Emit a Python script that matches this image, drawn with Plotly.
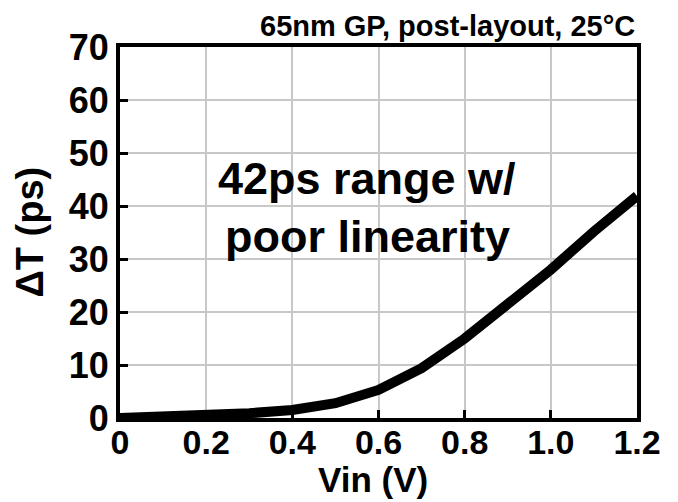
import plotly.graph_objects as go

vin = [0.0, 0.1, 0.2, 0.3, 0.4, 0.5, 0.6, 0.7, 0.8, 0.9, 1.0, 1.1, 1.2]
delta_t = [0.0, 0.2, 0.5, 0.9, 1.5, 2.8, 5.3, 9.4, 15.0, 21.5, 28.0, 35.2, 41.9]

x_ticks = [0, 0.2, 0.4, 0.6, 0.8, 1.0, 1.2]
x_tick_labels = ["0", "0.2", "0.4", "0.6", "0.8", "1.0", "1.2"]
y_ticks = [0, 10, 20, 30, 40, 50, 60, 70]

title_text = "65nm GP, post-layout, 25°C"
x_title = "Vin (V)"
y_title = "ΔT (ps)"
note_lines = ["42ps range w/", "poor linearity"]

FONT = "Liberation Sans, Arial, sans-serif"

fig = go.Figure()
fig.add_trace(go.Scatter(
    x=vin, y=delta_t, mode="lines",
    line=dict(color="black", width=10),
    cliponaxis=False, showlegend=False,
))

fig.update_layout(
    width=678, height=502,
    margin=dict(l=120, r=41, t=47, b=84),
    paper_bgcolor="white", plot_bgcolor="white",
    font=dict(family=FONT, color="black"),
    showlegend=False,
)

fig.update_xaxes(
    range=[0, 1.2], tickvals=x_ticks, ticktext=x_tick_labels,
    showgrid=True, gridcolor="#c8c8c8", gridwidth=1.5,
    showline=True, linecolor="black", linewidth=4, mirror=True,
    ticks="inside", ticklen=8, tickwidth=3, tickcolor="black",
    tickfont=dict(family=FONT, size=34, color="black", weight="bold"),
    ticklabelstandoff=-9,
    zeroline=False,
)
fig.update_yaxes(
    range=[0, 70], tickvals=y_ticks,
    showgrid=True, gridcolor="#c8c8c8", gridwidth=1.5,
    showline=True, linecolor="black", linewidth=4, mirror=True,
    ticks="inside", ticklen=8, tickwidth=3, tickcolor="black",
    tickfont=dict(family=FONT, size=36, color="black", weight="bold"),
    zeroline=False,
)

fig.add_annotation(
    text="<b>" + x_title + "</b>", xref="paper", yref="paper",
    x=0.49, y=-0.2237, xanchor="center", yanchor="bottom",
    showarrow=False, font=dict(family=FONT, size=35, color="black"),
)
fig.add_annotation(
    text="<b>" + y_title + "</b>", xref="paper", yref="paper",
    x=-0.176, y=0.5, xanchor="center", yanchor="middle", textangle=-90,
    showarrow=False, font=dict(family=FONT, size=38, color="black"),
)
fig.add_annotation(
    text="<b>" + title_text + "</b>", xref="paper", yref="paper",
    x=1.0, y=1.0, xanchor="right", yanchor="bottom", yshift=3,
    showarrow=False, font=dict(family=FONT, size=29, color="black"),
)
fig.add_annotation(
    text="<b>" + note_lines[0] + "</b>", xref="x", yref="y",
    x=0.574, y=45.2, xanchor="center", yanchor="middle",
    showarrow=False, font=dict(family=FONT, size=45, color="black"),
)
fig.add_annotation(
    text="<b>" + note_lines[1] + "</b>", xref="x", yref="y",
    x=0.574, y=34.3, xanchor="center", yanchor="middle",
    showarrow=False, font=dict(family=FONT, size=45, color="black"),
)

fig.write_html("out.html")
